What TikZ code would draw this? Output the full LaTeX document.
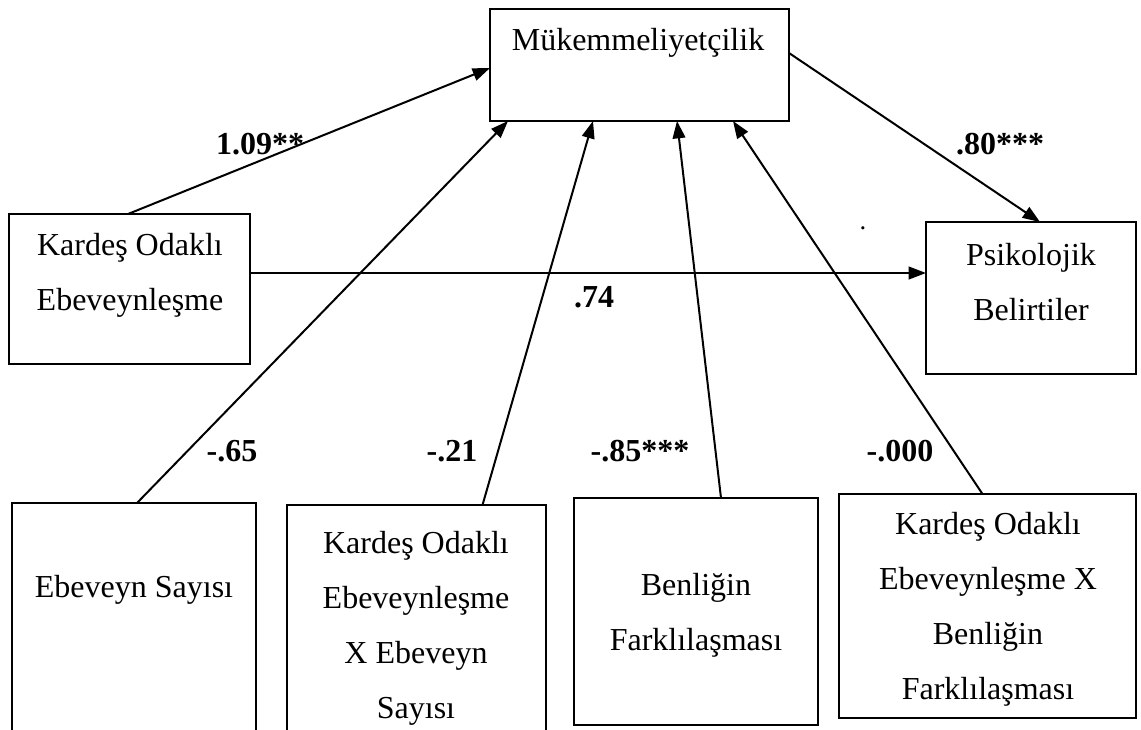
\documentclass[tikz,border=0pt]{standalone}
\usepackage{fontspec}
\setmainfont{Liberation Serif}
\usetikzlibrary{arrows.meta}
\begin{document}
\begin{tikzpicture}[x=0.75pt,y=-0.75pt,
  box/.style={draw, line width=2pt, anchor=north west, inner sep=0pt, outer sep=0pt},
  txt/.style={font=\fontsize{24}{41.25}\selectfont, align=center, inner sep=0pt},
  lbl/.style={font=\fontsize{24}{28}\selectfont\bfseries, inner sep=0pt},
  arr/.style={line width=1.5pt, -{Triangle[length=13pt,width=9.5pt]}}
]
\useasboundingbox (0,0) rectangle (1141,729);
% boxes
\node[box, minimum width=299*0.75pt, minimum height=112*0.75pt] (top) at (490,9) {};
\node[box, minimum width=241*0.75pt, minimum height=150*0.75pt] (kop) at (9,214) {};
\node[box, minimum width=210*0.75pt, minimum height=152*0.75pt] (psi) at (926,222) {};
\node[box, minimum width=244*0.75pt, minimum height=260*0.75pt] (es) at (12,503) {};
\node[box, minimum width=259*0.75pt, minimum height=260*0.75pt] (kxe) at (287,505) {};
\node[box, minimum width=244*0.75pt, minimum height=227*0.75pt] (ben) at (574,498) {};
\node[box, minimum width=297*0.75pt, minimum height=224*0.75pt] (kxb) at (839,494) {};
% texts
\node[txt] (toptx) at (638,42.5) {Mükemmeliyetçilik};
\node[txt] (koptx) at (130,275.5) {Kardeş Odaklı\\Ebeveynleşme};
\node[txt] (psitx) at (1031,282.5) {Psikolojik\\Belirtiler};
\node[txt] (estx) at (134,590) {Ebeveyn Sayısı};
\node[txt] (kxetx) at (416,628.5) {Kardeş Odaklı\\Ebeveynleşme\\X Ebeveyn\\Sayısı};
\node[txt] (bentx) at (696,615.5) {Benliğin\\Farklılaşması};
\node[txt] (kxbtx) at (988,609.5) {Kardeş Odaklı\\Ebeveynleşme X\\Benliğin\\Farklılaşması};
% connectors
\draw[arr] ([xshift=119*0.75pt]kop.north west) -- ([yshift=-59*0.75pt]top.north west);
\draw[arr] ([yshift=-44*0.75pt]top.north east) -- ([xshift=114*0.75pt]psi.north west);
\draw[arr] ([yshift=12pt]kop.east) -- ([yshift=12pt]kop.east -| psi.west);
\draw[arr] ([xshift=3*0.75pt]es.north) -- ([xshift=18*0.75pt]top.south west);
\draw[arr] ([xshift=66*0.75pt]kxe.north) -- ([xshift=103*0.75pt]top.south west);
\draw[arr] ([xshift=25*0.75pt]ben.north) -- ([xshift=187*0.75pt]top.south west);
\draw[arr] ([xshift=-5*0.75pt]kxb.north) -- ([xshift=243*0.75pt]top.south west);
% labels
\node[lbl] (l1) at (260,144) {1.09**};
\node[lbl] (l2) at (1000,144) {.80***};
\node[lbl] (l3) at (594,297) {.74};
\node[lbl] (l4) at (232,451) {-.65};
\node[lbl] (l5) at (452,451) {-.21};
\node[lbl] (l6) at (640,451) {-.85***};
\node[lbl] (l7) at (900,451) {-.000};
\node[font=\fontsize{20}{24}\selectfont, inner sep=0pt] (dot) at (863,228) {.};
\end{tikzpicture}
\end{document}
